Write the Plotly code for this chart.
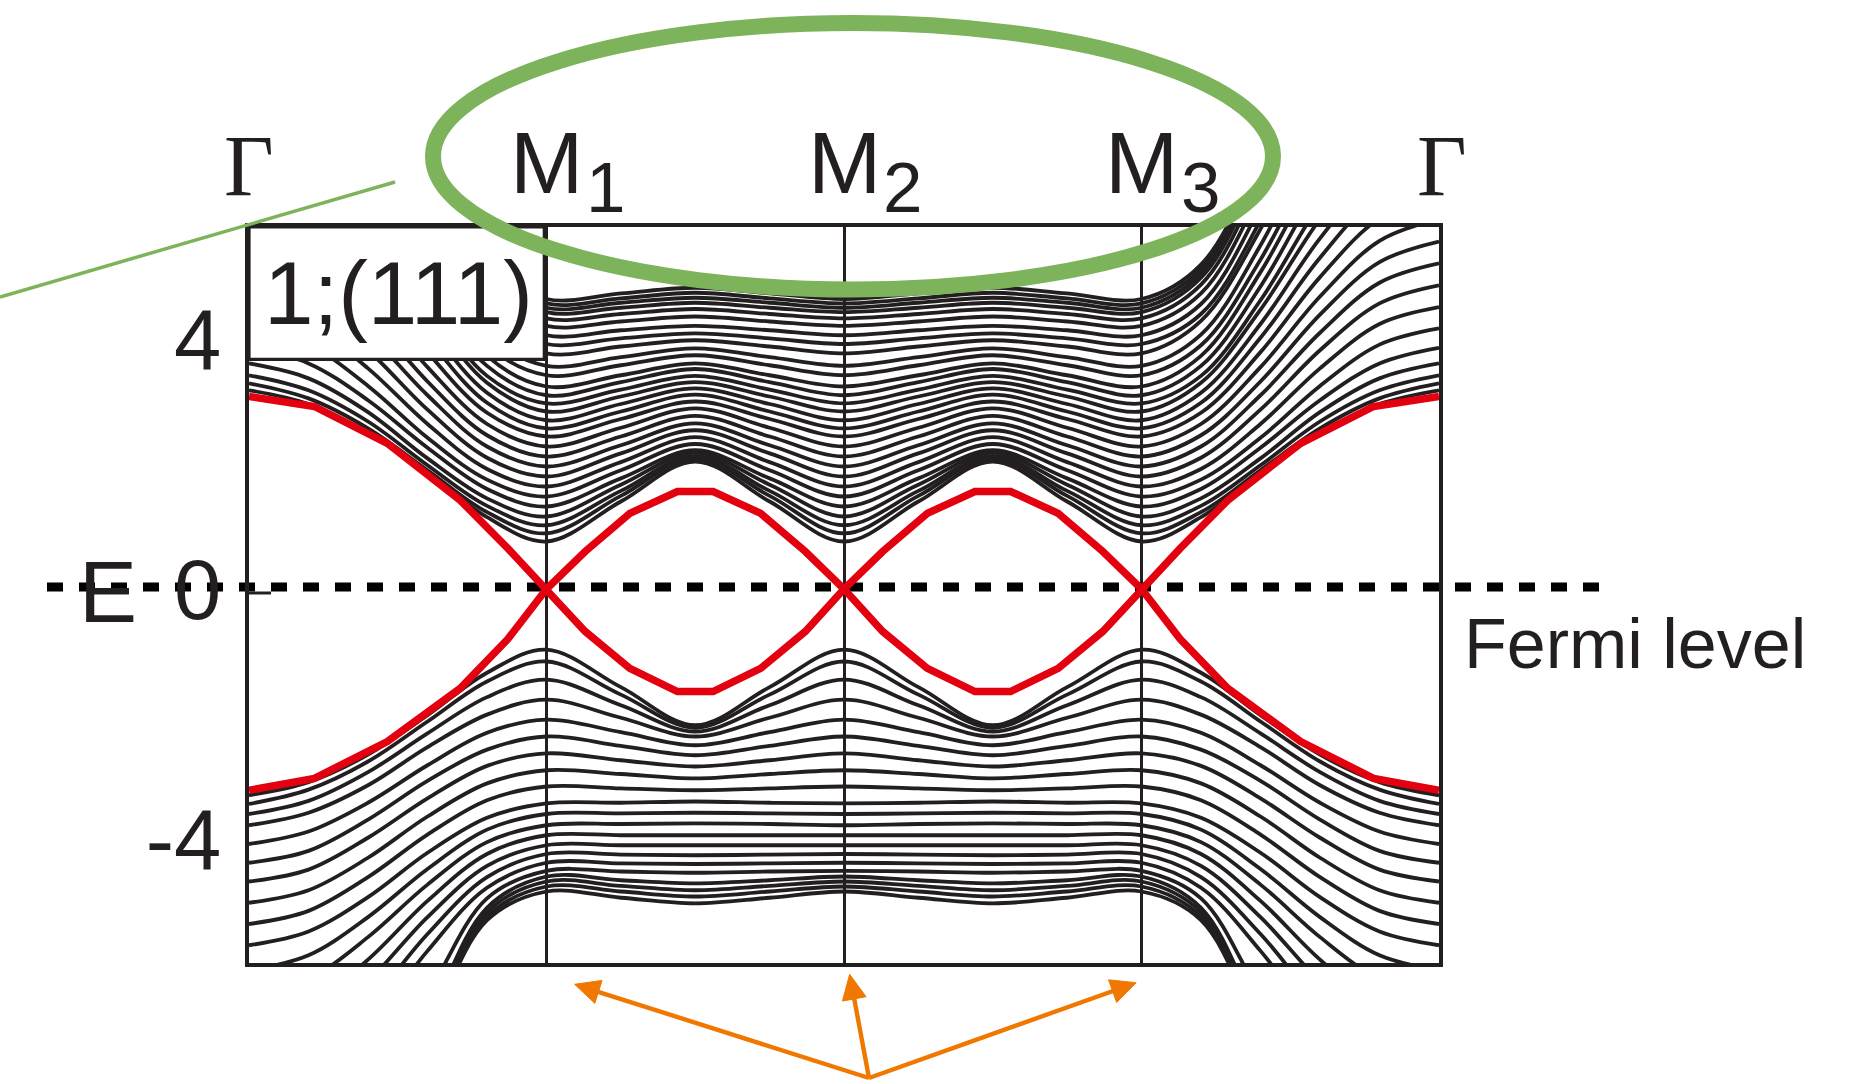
import math
import plotly.graph_objects as go

# ---------------------------------------------------------------------------
# Band structure of a (111) slab along  Γ – M1 – M2 – M3 – Γ
# k coordinate: Γ = 0, M1 = 1, M2 = 2, M3 = 3, Γ = 4 ; energies in eV
# ---------------------------------------------------------------------------
K_RANGE = [0.0, 4.0]
E_RANGE = [-5.984, 5.792]

K_TICKS = [1, 2, 3]
E_TICKS = [-4, 0, 4]
E_TICK_TEXT = ["-4", "0", "4"]

# sample positions on a Γ–M leg, measured from M towards Γ
K_GM = [0.0, 0.2, 0.4, 0.6, 0.8, 1.0]
# sample positions on an M–M leg (quarter point, middle point), measured from M
K_MM = [0.25, 0.5]

# bulk-like bands above E_F : energies on the Γ–M leg at K_GM (M ... Γ)
UPPER_GM = [
    [0.76, 1.15, 1.85, 2.50, 2.96, 3.18],
    [0.89, 1.23, 1.90, 2.57, 3.05, 3.29],
    [1.02, 1.33, 1.98, 2.68, 3.18, 3.42],
    [1.16, 1.45, 2.09, 2.83, 3.37, 3.61],
    [1.32, 1.60, 2.26, 3.02, 3.61, 3.86],
    [1.48, 1.75, 2.42, 3.25, 3.91, 4.17],
    [1.64, 1.92, 2.64, 3.53, 4.24, 4.51],
    [1.80, 2.10, 2.87, 3.82, 4.57, 4.86],
    [1.96, 2.28, 3.10, 4.10, 4.90, 5.21],
    [2.12, 2.46, 3.32, 4.39, 5.23, 5.56],
    [2.28, 2.64, 3.55, 4.68, 5.57, 5.92],
    [2.44, 2.82, 3.79, 4.99, 5.93, 6.30],
    [2.57, 2.98, 4.02, 5.30, 6.31, 6.70],
    [2.70, 3.14, 4.24, 5.61, 6.68, 7.10],
    [2.84, 3.30, 4.47, 5.92, 7.06, 7.50],
    [2.97, 3.41, 4.62, 6.17, 7.43, 7.90],
    [3.10, 3.57, 4.84, 6.48, 7.81, 8.30],
    [3.24, 3.73, 5.07, 6.79, 8.18, 8.70],
    [3.42, 3.90, 5.27, 7.06, 8.53, 9.10],
    [3.57, 4.07, 5.50, 7.37, 8.91, 9.50],
    [3.77, 4.29, 5.76, 7.69, 9.29, 9.90],
    [3.92, 4.40, 5.90, 7.94, 9.66, 10.30],
    [4.06, 4.56, 6.12, 8.25, 10.04, 10.70],
    [4.21, 4.73, 6.35, 8.55, 10.41, 11.10],
    [4.33, 4.87, 6.55, 8.85, 10.78, 11.50],
    [4.43, 4.98, 6.72, 9.07, 11.06, 11.80],
    [4.50, 5.05, 6.79, 9.16, 11.16, 11.90],
    [4.57, 5.12, 6.87, 9.25, 11.26, 12.00],
    [4.64, 5.19, 6.94, 9.33, 11.35, 12.10],
]
# the same bands on an M–M leg : (quarter point, middle point)
UPPER_MM = [
    [1.40, 2.04], [1.49, 2.09], [1.57, 2.13], [1.67, 2.18], [1.77, 2.22],
    [1.90, 2.32], [2.03, 2.43], [2.17, 2.54], [2.30, 2.65], [2.44, 2.77],
    [2.58, 2.89], [2.72, 3.00], [2.84, 3.11], [2.96, 3.21], [3.08, 3.31],
    [3.19, 3.41], [3.31, 3.52], [3.42, 3.61], [3.58, 3.74], [3.71, 3.85],
    [3.88, 3.98], [4.01, 4.09], [4.14, 4.21], [4.28, 4.36], [4.40, 4.48],
    [4.50, 4.58], [4.58, 4.66], [4.65, 4.74], [4.73, 4.82],
]

# bulk-like bands below E_F
LOWER_GM = [
    [-0.97, -1.34, -2.02, -2.65, -3.09, -3.30],
    [-1.16, -1.48, -2.12, -2.76, -3.21, -3.44],
    [-1.45, -1.73, -2.31, -2.93, -3.39, -3.60],
    [-1.77, -2.01, -2.53, -3.14, -3.58, -3.78],
    [-2.09, -2.30, -2.82, -3.42, -3.88, -4.08],
    [-2.36, -2.57, -3.07, -3.69, -4.19, -4.38],
    [-2.63, -2.83, -3.35, -3.98, -4.49, -4.68],
    [-2.90, -3.11, -3.64, -4.30, -4.82, -5.02],
    [-3.16, -3.38, -3.93, -4.61, -5.15, -5.36],
    [-3.43, -3.66, -4.22, -4.93, -5.48, -5.70],
    [-3.60, -3.85, -4.48, -5.25, -5.86, -6.10],
    [-3.78, -4.05, -4.73, -5.57, -6.24, -6.50],
    [-3.94, -4.24, -4.99, -5.93, -6.66, -6.95],
    [-4.10, -4.43, -5.25, -6.28, -7.09, -7.40],
    [-4.24, -4.61, -5.52, -6.66, -7.55, -7.90],
    [-4.38, -4.78, -5.79, -7.03, -8.02, -8.40],
    [-4.51, -4.95, -6.50, -8.00, -9.00, -9.40],
    [-4.60, -5.10, -6.90, -8.60, -9.80, -10.20],
    [-4.68, -5.17, -6.97, -8.70, -9.90, -10.30],
    [-4.76, -5.24, -7.04, -8.80, -10.00, -10.40],
    [-4.84, -5.30, -7.10, -8.90, -10.10, -10.50],
]
LOWER_MM = [
    [-1.57, -2.18], [-1.69, -2.22], [-1.86, -2.28], [-2.06, -2.36], [-2.29, -2.50],
    [-2.51, -2.66], [-2.74, -2.84], [-2.96, -3.03], [-3.19, -3.22], [-3.42, -3.40],
    [-3.59, -3.58], [-3.76, -3.75], [-3.94, -3.94], [-4.10, -4.10], [-4.25, -4.26],
    [-4.39, -4.40], [-4.52, -4.54], [-4.66, -4.71], [-4.75, -4.82], [-4.84, -4.92],
    [-4.94, -5.03],
]

# surface-state (Dirac cone) bands, sampled more coarsely
RED_GM_K = [0.0, 0.13, 0.29, 0.535, 0.78, 1.0]          # from M towards Γ
RED_GM_UP = [0.0, 0.65, 1.42, 2.33, 2.92, 3.08]
RED_GM_DN = [0.0, -0.80, -1.59, -2.44, -3.03, -3.22]
RED_MM_K = [0.0, 0.13, 0.28, 0.44, 0.56, 0.72, 0.87, 1.0]
RED_MM_UP = [0.0, 0.60, 1.21, 1.56, 1.56, 1.21, 0.60, 0.0]
RED_MM_DN = [0.0, -0.68, -1.27, -1.64, -1.64, -1.27, -0.68, 0.0]

INK = "#231f20"
RED = "#e3000f"
GREEN = "#7cb35b"
ORANGE = "#f07800"
SANS = "Liberation Sans, Arial, Helvetica, sans-serif"
SERIF = "Liberation Serif, Times New Roman, serif"

FIG_W, FIG_H = 1854, 1084
MARGIN = dict(l=249, r=415, t=227, b=121)
PLOT_W = FIG_W - MARGIN["l"] - MARGIN["r"]
PLOT_H = FIG_H - MARGIN["t"] - MARGIN["b"]


def band_path(gm, mm):
    """Full Γ–M1–M2–M3–Γ path of one band from its Γ–M and M–M samples."""
    xs, ys = [], []
    for t, e in zip(K_GM[::-1], gm[::-1]):          # Γ -> M1
        xs.append(1.0 - t)
        ys.append(e)
    q, mid = mm
    for m in (1.0, 2.0):                               # M1 -> M2 -> M3
        xs += [m + K_MM[0], m + K_MM[1], m + 1.0 - K_MM[0], m + 1.0]
        ys += [q, mid, q, gm[0]]
    for t, e in zip(K_GM[1:], gm[1:]):                 # M3 -> Γ
        xs.append(3.0 + t)
        ys.append(e)
    return xs, ys


def red_path(gm_first, mm_first, mm_second, gm_last):
    xs, ys = [], []
    for t, e in zip(RED_GM_K[::-1], gm_first[::-1]):
        xs.append(1.0 - t)
        ys.append(e)
    for m, seg in ((1.0, mm_first), (2.0, mm_second)):
        for t, e in zip(RED_MM_K[1:], seg[1:]):
            xs.append(m + t)
            ys.append(e)
    for t, e in zip(RED_GM_K[1:], gm_last[1:]):
        xs.append(3.0 + t)
        ys.append(e)
    return xs, ys


def xp(k):
    return (k - K_RANGE[0]) / (K_RANGE[1] - K_RANGE[0])


def yp(e):
    return (e - E_RANGE[0]) / (E_RANGE[1] - E_RANGE[0])


def arrow_shapes(tail, tip, color, width=4.4, head_len=25.0, head_half=12.0):
    """Shaft plus filled triangular head, given (k, E) of tail and tip."""
    tx, ty = xp(tail[0]) * PLOT_W, yp(tail[1]) * PLOT_H
    hx, hy = xp(tip[0]) * PLOT_W, yp(tip[1]) * PLOT_H
    length = math.hypot(hx - tx, hy - ty)
    ux, uy = (hx - tx) / length, (hy - ty) / length
    bx, by = hx - head_len * ux, hy - head_len * uy
    nx, ny = -uy, ux
    pts = [(hx, hy), (bx + head_half * nx, by + head_half * ny),
           (bx - head_half * nx, by - head_half * ny)]
    path = "M " + " L ".join("%.5f,%.5f" % (px / PLOT_W, py / PLOT_H) for px, py in pts) + " Z"
    return [
        dict(type="line", xref="paper", yref="paper", layer="above",
             x0=tx / PLOT_W, y0=ty / PLOT_H, x1=(bx + 2 * ux) / PLOT_W, y1=(by + 2 * uy) / PLOT_H,
             line=dict(color=color, width=width)),
        dict(type="path", xref="paper", yref="paper", layer="above", path=path,
             fillcolor=color, line=dict(color=color, width=1)),
    ]


fig = go.Figure()

for gm, mm in list(zip(UPPER_GM, UPPER_MM)) + list(zip(LOWER_GM, LOWER_MM)):
    x, y = band_path(gm, mm)
    fig.add_trace(go.Scatter(x=x, y=y, mode="lines", hoverinfo="skip",
                             line=dict(color=INK, width=3.8, shape="spline", smoothing=1.0)))

for args in ((RED_GM_UP, RED_MM_DN, RED_MM_UP, RED_GM_DN),
             (RED_GM_DN, RED_MM_UP, RED_MM_DN, RED_GM_UP)):
    x, y = red_path(*args)
    fig.add_trace(go.Scatter(x=x, y=y, mode="lines", hoverinfo="skip",
                             line=dict(color=RED, width=7.5)))

shapes = [
    # Fermi level
    dict(type="line", xref="paper", yref="paper", layer="below",
         x0=xp(-0.679), x1=xp(4.541), y0=yp(0.032), y1=yp(0.032),
         line=dict(color="#000000", width=9, dash="16px,16px")),
    # small tick at E = 0
    dict(type="line", xref="x", yref="y", layer="above",
         x0=0, x1=0.074, y0=-0.064, y1=-0.064, line=dict(color=INK, width=3)),
    # label box
    dict(type="rect", xref="x", yref="y", layer="above",
         x0=0, x1=0.9926, y0=3.675, y1=E_RANGE[1],
         fillcolor="white", line=dict(color=INK, width=3.2)),
    # highlight around the M points
    dict(type="circle", xref="paper", yref="paper", layer="above",
         x0=xp(0.6185), x1=xp(3.442), y0=yp(4.792), y1=yp(9.056),
         line=dict(color=GREEN, width=16)),
    dict(type="line", xref="paper", yref="paper", layer="above",
         x0=xp(-0.837), y0=yp(4.672), x1=xp(0.4908), y1=yp(6.512),
         line=dict(color=GREEN, width=3.5)),
]

# arrows from a common point below the axis towards M1, M2, M3
ARROW_TAIL = (2.084, -7.824)
ARROW_TIPS = [(1.0945, -6.325), (2.019, -6.165), (2.982, -6.30)]
for tip in ARROW_TIPS:
    shapes += arrow_shapes(ARROW_TAIL, tip, ORANGE)

annotations = []


def label(text, k, e, size, family=SANS, xanchor="center", yanchor="middle"):
    annotations.append(dict(text=text, x=xp(k), y=yp(e), xref="paper", yref="paper",
                             xanchor=xanchor, yanchor=yanchor, showarrow=False,
                             font=dict(family=family, size=size, color=INK)))


label("Γ", 0.0, 6.776, 86, family=SERIF)
label("Γ", 4.01, 6.776, 86, family=SERIF)
# high-symmetry labels: the M glyph is centred on its k point, index set lower right
for k in (1, 2, 3):
    label("M", k, 6.824, 88)
    label(str(k), k + 0.125, 6.424, 71, xanchor="left")
label("1;(111)", 0.503, 4.736, 89)
label("E", -0.4756, -0.04, 87)
label("Fermi level", 4.077, -0.88, 70, xanchor="left")

fig.update_layout(
    width=FIG_W, height=FIG_H,
    margin=MARGIN,
    paper_bgcolor="white", plot_bgcolor="rgba(0,0,0,0)",
    showlegend=False,
    shapes=shapes, annotations=annotations,
    xaxis=dict(range=K_RANGE, tickvals=K_TICKS, showticklabels=False, ticks="",
               showgrid=True, gridcolor=INK, gridwidth=3, zeroline=False,
               showline=True, mirror=True, linecolor=INK, linewidth=3.5),
    yaxis=dict(range=E_RANGE, tickvals=E_TICKS, ticktext=E_TICK_TEXT, ticks="",
               showgrid=False, zeroline=False, showline=True, mirror=True,
               linecolor=INK, linewidth=3.5, ticklabelstandoff=7,
               tickfont=dict(family=SANS, size=85, color=INK)),
)

fig.write_html("out.html")
